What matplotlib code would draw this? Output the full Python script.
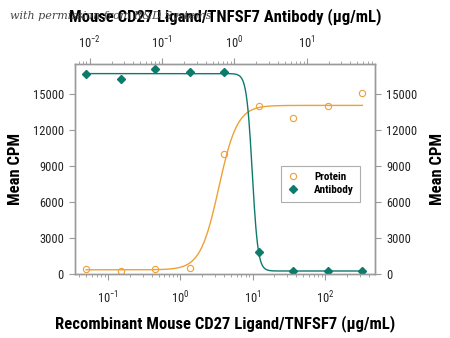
import numpy as np
import matplotlib
matplotlib.use('Agg')
from matplotlib import pyplot as plt
from matplotlib import font_manager

# protein concentrations (bottom axis, ug/mL) and mean CPM
protein_conc = [0.05, 0.15, 0.45, 1.35, 4.05, 12.2, 36.5, 109, 328]
protein_cpm = [390, 280, 390, 530, 9970, 14000, 12970, 14000, 15060]

# antibody concentrations (top axis, ug/mL) and mean CPM
antibody_conc = [0.009, 0.027, 0.08, 0.24, 0.72, 2.2, 6.5, 19.5, 58]
antibody_cpm = [16690, 16275, 17110, 16800, 16800, 1860, 250, 250, 250]

# 4PL fit parameters: bottom, top, ec50, hill
protein_fit = (350, 14050, 3.4, 3.4)
antibody_fit = (250, 16700, 1.76, -11.0)

yticks = [0, 3000, 6000, 9000, 12000, 15000]

orange = '#f0a035'
teal = '#0e7a6c'
grey = '#9a9a9a'

installed = set(f.name for f in font_manager.fontManager.ttflist)
if 'Roboto Condensed' in installed:
    font = ['Roboto Condensed', 'DejaVu Sans']
    big, small, leg_size = 12, 9, 8
else:
    font = ['Liberation Sans', 'DejaVu Sans']
    big, small, leg_size = 10, 8, 7


def fourpl(x, p):
    bottom, top, ec50, hill = p
    return bottom + (top - bottom) / (1 + (ec50 / x) ** hill)


plt.rcParams['font.family'] = font
plt.rcParams['mathtext.fontset'] = 'custom'
plt.rcParams['mathtext.rm'] = font[0]
plt.rcParams['mathtext.it'] = font[0]
fig = plt.figure(figsize=(4.5, 3.38), dpi=100)
ax = fig.add_axes([75 / 450, 64 / 338, 300 / 450, 210 / 338])
ax.set_xscale('log')
ax.set_xlim(0.035, 490)
ax.set_ylim(0, 17500)

ax2 = ax.twiny()
ax2.set_xscale('log')
ax2.set_xlim(0.035 / 5.6, 490 / 5.6)

xs = np.logspace(np.log10(protein_conc[0]), np.log10(protein_conc[-1]), 400)
ax.plot(xs, fourpl(xs, protein_fit), color=orange, lw=1.0)
p1, = ax.plot(protein_conc, protein_cpm, 'o', ms=4.5, mfc='none',
              mec=orange, mew=0.8, label='Protein')

xs2 = np.logspace(np.log10(antibody_conc[0]), np.log10(antibody_conc[-1]), 600)
ax2.plot(xs2, fourpl(xs2, antibody_fit), color=teal, lw=1.0)
p2, = ax2.plot(antibody_conc, antibody_cpm, 'D', ms=4, color=teal,
               label='Antibody')

ax.set_yticks(yticks)
ax.set_yticklabels([str(v) for v in yticks])
for a in (ax, ax2):
    for s in a.spines.values():
        s.set_color(grey)
        s.set_linewidth(1.0)
    a.tick_params(which='major', length=4, color=grey, labelsize=small,
                  labelcolor='#222222')
    a.tick_params(which='minor', length=2, color=grey)
ax.tick_params(axis='y', which='both', right=True, labelright=True,
               length=4, pad=4)
ax.tick_params(axis='x', pad=7)
ax2.tick_params(axis='x', pad=5)

leg = ax.legend(handles=[p1, p2], loc='center right',
                bbox_to_anchor=(0.97, 0.43), frameon=True, fancybox=False,
                fontsize=leg_size, handlelength=1.0, borderpad=0.6,
                labelspacing=0.25, handletextpad=1.4)
leg.get_frame().set_edgecolor(grey)
leg.get_frame().set_linewidth(0.8)
for t in leg.get_texts():
    t.set_fontweight('bold')

fig.text(0.5, 0.952, 'Mouse CD27 Ligand/TNFSF7 Antibody (\u03bcg/mL)',
         ha='center', va='center', fontsize=big, fontweight='bold')
fig.text(0.5, 0.044, 'Recombinant Mouse CD27 Ligand/TNFSF7 (\u03bcg/mL)',
         ha='center', va='center', fontsize=big, fontweight='bold')
fig.text(0.035, 0.5, 'Mean CPM', rotation=90, ha='center', va='center',
         fontsize=big, fontweight='bold')
fig.text(0.972, 0.5, 'Mean CPM', rotation=90, ha='center', va='center',
         fontsize=big, fontweight='bold')
fig.text(0.022, 0.952, 'with permission from R&D Systems', ha='left',
         va='center', fontsize=8, style='italic', color='#444444',
         family=['DejaVu Serif'])

fig.savefig('out.png', dpi=100)
